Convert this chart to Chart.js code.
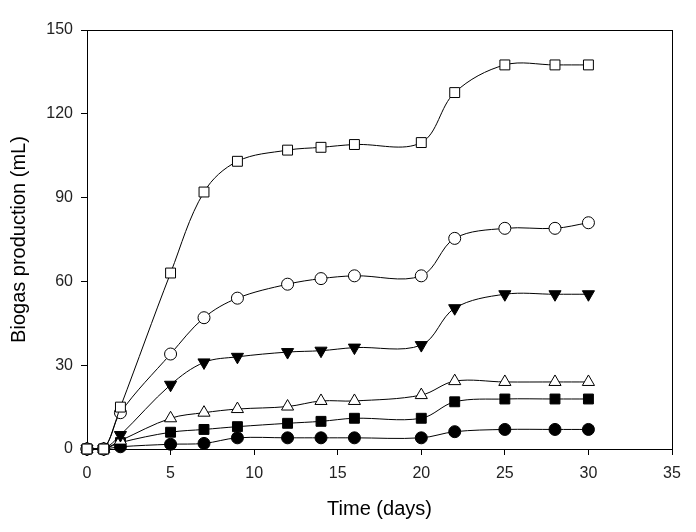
<!DOCTYPE html>
<html>
<head>
<meta charset="utf-8">
<script src="https://cdn.jsdelivr.net/npm/chart.js@4"></script>
<style>
  html, body { margin: 0; padding: 0; background: #fff; }
  #wrap { width: 696px; height: 532px; }
</style>
</head>
<body>
<div id="wrap"><canvas id="c" width="696" height="532"></canvas></div>
<script>
const days = [0, 1, 2, 5, 7, 9, 12, 14, 16, 20, 22, 25, 28, 30];
const openSquare   = [0, 0, 15, 63, 92, 103, 107, 108, 109, 109.7, 127.6, 137.5, 137.5, 137.5];
const openCircle   = [0, 0, 13, 34, 47, 54, 59, 61, 62, 62, 75.4, 79, 79, 81];
const downTriangle = [0, 0, 5, 23, 31, 33, 34.7, 35.2, 36.3, 37.2, 50.4, 55.4, 55.4, 55.4];
const openTriangle = [0, 0, 3, 11, 13, 14.3, 15.2, 17.2, 17.2, 19.3, 24.3, 24, 24, 24];
const fillSquare   = [0, 0, 2.3, 6, 7, 8, 9.2, 9.9, 11, 11, 16.9, 17.9, 17.9, 17.9];
const fillCircle   = [0, 0, 0.8, 1.7, 2, 4, 4, 4, 4, 4, 6.2, 7, 7, 7];
const xTicks = [0, 5, 10, 15, 20, 25, 30, 35];
const yTicks = [0, 30, 60, 90, 120, 150];

const pts = arr => arr.map((v, i) => ({ x: days[i], y: v }));
const series = (data, style, radius, fill, rotation, order) => ({
  data: pts(data), pointStyle: style, pointRadius: radius, pointHoverRadius: radius,
  pointRotation: rotation || 0, pointBackgroundColor: fill, pointBorderColor: '#000',
  pointBorderWidth: 1, borderColor: '#000', borderWidth: 1, tension: 0.35, fill: false,
  clip: false, order,
});

// SigmaPlot-style closed frame around the plot area
const frame = {
  id: 'frame',
  beforeDatasetsDraw(chart) {
    const { ctx, chartArea: a } = chart;
    ctx.save();
    ctx.strokeStyle = '#000';
    ctx.lineWidth = 1;
    ctx.strokeRect(Math.round(a.left) + 0.5, Math.round(a.top) + 0.5, Math.round(a.right - a.left), Math.round(a.bottom - a.top));
    ctx.restore();
  },
};

const tickFont = { family: 'Liberation Sans, Arial, sans-serif', size: 16 };
const titleFont = { family: 'Liberation Sans, Arial, sans-serif', size: 20 };

new Chart(document.getElementById('c'), {
  type: 'line',
  data: {
    datasets: [
      series(fillCircle, 'circle', 6, '#000', 0, 6),
      series(fillSquare, 'rect', 7, '#000', 0, 5),
      series(openTriangle, 'triangle', 7, '#fff', 0, 4),
      series(downTriangle, 'triangle', 7, '#000', 180, 3),
      series(openCircle, 'circle', 6, '#fff', 0, 2),
      series(openSquare, 'rect', 7, '#fff', 0, 1),
    ],
  },
  options: {
    responsive: false,
    animation: false,
    layout: { padding: { top: 30, right: 24, left: 0, bottom: 0 } },
    plugins: { legend: { display: false }, tooltip: { enabled: false } },
    scales: {
      x: {
        type: 'linear', min: 0, max: 35,
        afterBuildTicks: s => { s.ticks = xTicks.map(v => ({ value: v })); },
        afterFit: s => { s.height = 83; },
        grid: { drawOnChartArea: false, tickLength: 6, color: '#000' },
        border: { display: true, color: '#000' },
        ticks: { font: tickFont, color: '#222', padding: 9, maxRotation: 0 },
        title: { display: true, text: 'Time (days)', font: titleFont, color: '#000', padding: { top: 0, bottom: 11 } },
      },
      y: {
        min: 0, max: 150,
        afterBuildTicks: s => { s.ticks = yTicks.map(v => ({ value: v })); },
        afterFit: s => { s.width = 87; },
        grid: { drawOnChartArea: false, tickLength: 6, color: '#000' },
        border: { display: true, color: '#000' },
        ticks: { font: tickFont, color: '#222', padding: 8 },
        title: { display: true, text: 'Biogas production (mL)', font: titleFont, color: '#000', padding: { top: 7, bottom: 0 } },
      },
    },
  },
  plugins: [frame],
});
</script>
</body>
</html>
